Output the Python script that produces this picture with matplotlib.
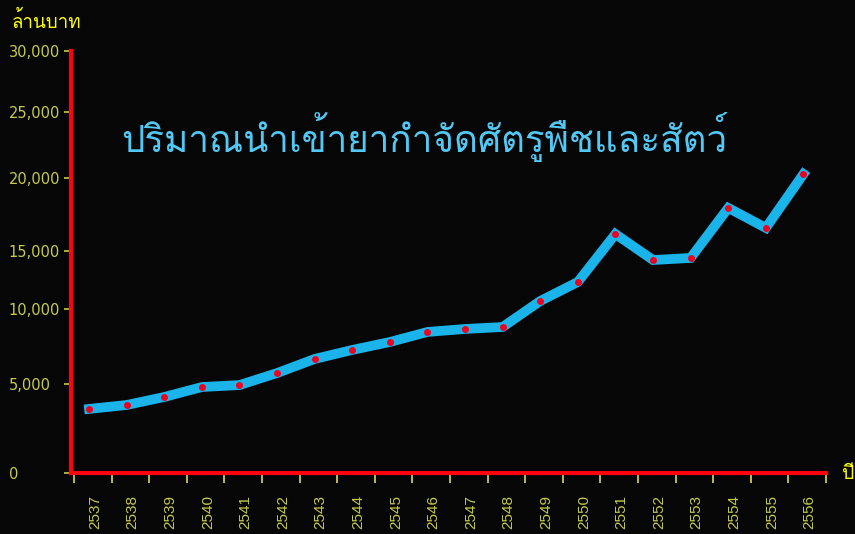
import numpy as np
import matplotlib
matplotlib.use("Agg")
import matplotlib.pyplot as plt
from matplotlib import font_manager
from matplotlib.ft2font import FT2Font

# data: import of pesticides (million baht) by Thai year
years = [str(y) for y in range(2537, 2557)]
values = [3600, 3820, 4270, 4830, 4940, 5730, 6670, 7270, 7800, 8470,
          8670, 8800, 10690, 12330, 16160, 14220, 14400, 17950, 16580, 20300]
ytick_vals = [0, 5000, 10000, 15000, 20000, 25000, 30000]
ytick_labels = ["0", "5,000", "10,000", "15,000", "20,000", "25,000", "30,000"]

# the original y axis is not evenly spaced, keep its spacing
ytick_frac = [0, 0.2109, 0.3886, 0.5261, 0.6991, 0.8555, 1.0]


def find_thai_font():
    "look for an installed font that has thai glyphs"
    for f in font_manager.fontManager.ttflist:
        try:
            cmap = FT2Font(f.fname).get_charmap()
        except Exception:
            continue
        if 0x0E1B in cmap and 0x0E32 in cmap:
            return f.name
    return "DejaVu Sans"


thai = find_thai_font()
plt.rcParams['font.family'] = [thai, 'DejaVu Sans']

bg = "#060606"
fig = plt.figure(figsize=(8.55, 5.34), dpi=100, facecolor=bg)
ax = fig.add_axes([71 / 855, 61 / 534, 755 / 855, 422 / 534], facecolor=bg)


def fwd(v):
    return np.interp(v, ytick_vals, ytick_frac)


def inv(v):
    return np.interp(v, ytick_frac, ytick_vals)


ax.set_yscale("function", functions=(fwd, inv))
ax.set_ylim(0, 30000)

x = np.arange(len(years))
ax.plot(x, values, color="#1ab4ea", lw=7, solid_joinstyle="miter", zorder=2)
ax.plot(x, values, "o", color="#ee0020", ms=5, mec="none", zorder=3)
ax.set_xlim(-0.48, 19.6)

for s in ["top", "right"]:
    ax.spines[s].set_visible(False)
for s in ["left", "bottom"]:
    ax.spines[s].set_color("#ff0010")
    ax.spines[s].set_linewidth(3)

tick_col = "#c8cc48"
ax.set_yticks(ytick_vals)
ax.set_yticklabels(ytick_labels, ha="left", fontsize=10.5, color=tick_col,
                   family=["DejaVu Sans"])
ax.tick_params(axis="y", color=tick_col, length=5, width=1.2, pad=40)

# boundary ticks + labels between them
ax.set_xticks(np.arange(21) - 0.4)
ax.set_xticklabels([])
ax.set_xticks(x + 0.16, minor=True)
ax.set_xticklabels(years, minor=True, rotation=90, fontsize=11, color=tick_col,
                   family=["Liberation Sans"], va="top")
ax.tick_params(axis="x", which="major", color=tick_col, length=7, width=1.3)
ax.tick_params(axis="x", which="minor", length=0, pad=16)

fig.text(12 / 855, 1 - 28 / 534, "ล้านบาท", color="#ffff00", fontsize=13.5)
fig.text(842 / 855, 1 - 479 / 534, "ปี", color="#ffff00", fontsize=14)
fig.text(424 / 855, 1 - 137 / 534, "ปริมาณนำเข้ายากำจัดศัตรูพืชและสัตว์",
         color="#52c8f4", fontsize=26.5, ha="center", va="center")

fig.savefig("out.png", dpi=100, facecolor=bg)
